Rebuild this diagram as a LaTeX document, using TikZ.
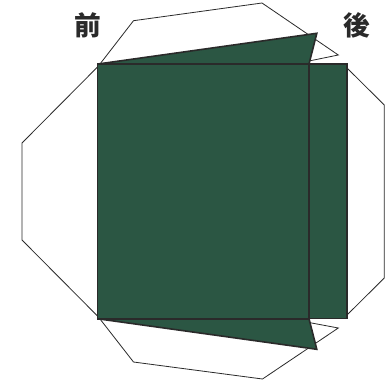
\documentclass[tikz,border=0pt]{standalone}
\usepackage{fontspec}
\newfontfamily\cjk{Noto Sans CJK JP}
\definecolor{flap}{HTML}{2B5643}
\definecolor{ink}{HTML}{2A2A2A}
\tikzset{
  x=0.75pt,y=-0.75pt,
  outline/.style={draw=ink,line width=0.6pt,line join=miter},
  panel/.style={draw=ink,fill=flap,line width=1.2pt,line join=miter},
  label/.style={font=\cjk\bfseries\fontsize{20pt}{20pt}\selectfont,text=ink,inner sep=0pt}
}
\begin{document}
\begin{tikzpicture}
\useasboundingbox (0,0) rectangle (392,382);
\fill[white] (0,0) rectangle (392,382);
\draw[outline] (97.5,67) -- (22,143) -- (22,240) -- (97.5,316);
\draw[outline] (100,64) -- (133.5,20.7) -- (262,3) -- (338.3,55) -- (309,61);
\draw[outline] (100,319) -- (133.5,362) -- (262.5,379) -- (338.3,328) -- (309,322.5);
\draw[outline] (347,68) -- (384.3,105) -- (384.3,278) -- (347,315);
\draw[panel] (98,64) -- (316.8,33.3) -- (309,64) -- cycle;
\draw[panel] (98,318.8) -- (316.8,349.3) -- (309,318.8) -- cycle;
\fill[flap] (309,64) rectangle (347,318.8);
\draw[ink,line width=0.8pt] (309,64) -- (347,64) -- (347,318.8) -- (309,318.8);
\draw[panel] (97.5,64) rectangle (309,318.8);
\node[label] (front) at (87.5,25) {前};
\node[label] (back) at (357,25) {後};
\end{tikzpicture}
\end{document}
